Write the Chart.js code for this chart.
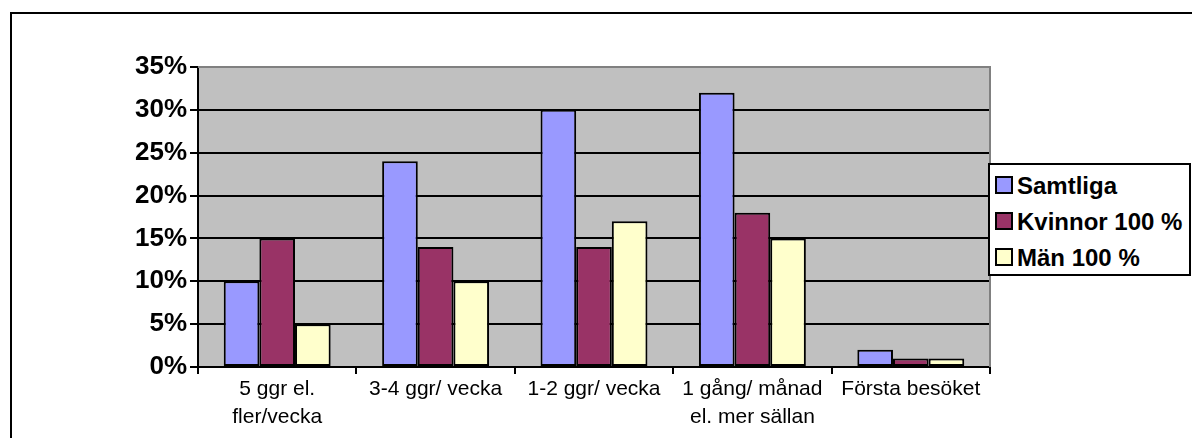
<!DOCTYPE html>
<html>
<head>
<meta charset="utf-8">
<script src="https://cdn.jsdelivr.net/npm/chart.js@4/dist/chart.umd.min.js"></script>
<style>
  body { margin: 0; background: #fff; }
  #wrap { position: relative; width: 1192px; height: 438px; overflow: hidden; }
  #legend {
    position: absolute; left: 988px; top: 163px; width: 199px; height: 109px;
    border: 2px solid #000; background: #fff;
    font: bold 24px "Liberation Sans", Arial, sans-serif; color: #000;
  }
  #legend .row { position: absolute; left: 5px; height: 26px; line-height: 26px; white-space: nowrap; }
  #legend .sw { display: inline-block; width: 14px; height: 14px; border: 2px solid #000; vertical-align: 0px; margin-right: 4px; }
</style>
</head>
<body>
<div id="wrap">
  <canvas id="chart" width="1192" height="438"></canvas>
  <div id="legend"></div>
</div>
<script>
// data
const categories = [['5 ggr el.', 'fler/vecka'], '3-4 ggr/ vecka', '1-2 ggr/ vecka', ['1 gång/ månad', 'el. mer sällan'], 'Första besöket'];
const seriesNames = ['Samtliga', 'Kvinnor 100 %', 'Män 100 %'];
const samtliga = [10, 24, 30, 32, 2];
const kvinnor = [15, 14, 14, 18, 1];
const man = [5, 10, 17, 15, 1];
const yTicks = [0, 5, 10, 15, 20, 25, 30, 35];
const colors = ['#9999FF', '#993366', '#FFFFCC'];

const font = '"Liberation Sans", Arial, sans-serif';

// grey plot background, grey top/right edge, outer frame
const plotArea = {
    id: 'plotArea',
    beforeDraw(chart) {
        const { ctx, chartArea: a } = chart;
        ctx.save();
        ctx.fillStyle = '#C0C0C0';
        ctx.fillRect(a.left, a.top, a.right - a.left, a.bottom - a.top);
        ctx.strokeStyle = '#000';
        ctx.lineWidth = 2;
        ctx.beginPath();
        ctx.moveTo(11, 438);
        ctx.lineTo(11, 13);
        ctx.lineTo(1192, 13);
        ctx.stroke();
        ctx.restore();
    },
    afterDatasetsDraw(chart) {
        const { ctx, chartArea: a } = chart;
        ctx.save();
        ctx.strokeStyle = '#808080';
        ctx.lineWidth = 2;
        ctx.beginPath();
        ctx.moveTo(a.left, a.top);
        ctx.lineTo(a.right, a.top);
        ctx.lineTo(a.right, a.bottom);
        ctx.stroke();
        ctx.restore();
    }
};

const ctx = document.getElementById('chart').getContext('2d');
const chart = new Chart(ctx, {
    type: 'bar',
    data: {
        labels: categories,
        datasets: [samtliga, kvinnor, man].map((d, i) => ({
            label: seriesNames[i],
            data: d,
            backgroundColor: colors[i],
            borderColor: '#000',
            borderWidth: 2,
            borderSkipped: false,
            categoryPercentage: 0.675,
            barPercentage: 1
        }))
    },
    options: {
        responsive: false,
        animation: false,
        devicePixelRatio: 1,
        layout: { padding: { left: 0, top: 67, right: 202, bottom: 0 } },
        plugins: { legend: { display: false }, tooltip: { enabled: false } },
        scales: {
            x: {
                grid: { drawOnChartArea: false, color: '#000', lineWidth: 2, tickLength: 7 },
                border: { color: '#000', width: 2 },
                ticks: { color: '#000', font: { family: font, size: 21, lineHeight: 1.3 }, padding: 2, maxRotation: 0, autoSkip: false },
                afterFit(s) { s.height = 71; }
            },
            y: {
                min: 0,
                max: 35,
                afterBuildTicks(s) { s.ticks = yTicks.map(v => ({ value: v })); },
                grid: {
                    color: c => c.tick && c.tick.value === 35 ? '#808080' : '#000',
                    tickColor: '#000',
                    lineWidth: 2,
                    tickLength: 8
                },
                border: { color: '#000', width: 2 },
                ticks: { color: '#000', font: { family: font, size: 26, weight: 'bold' }, padding: 3, callback: v => v + '%' },
                afterFit(s) { s.width = 198; }
            }
        }
    },
    plugins: [plotArea]
});

// legend as a boxed list next to the plot
const legend = document.getElementById('legend');
seriesNames.forEach((name, i) => {
    const row = document.createElement('div');
    row.className = 'row';
    row.style.top = (8 + i * 36) + 'px';
    row.innerHTML = '<span class="sw" style="background:' + colors[i] + '"></span>' + name;
    legend.appendChild(row);
});
</script>
</body>
</html>
